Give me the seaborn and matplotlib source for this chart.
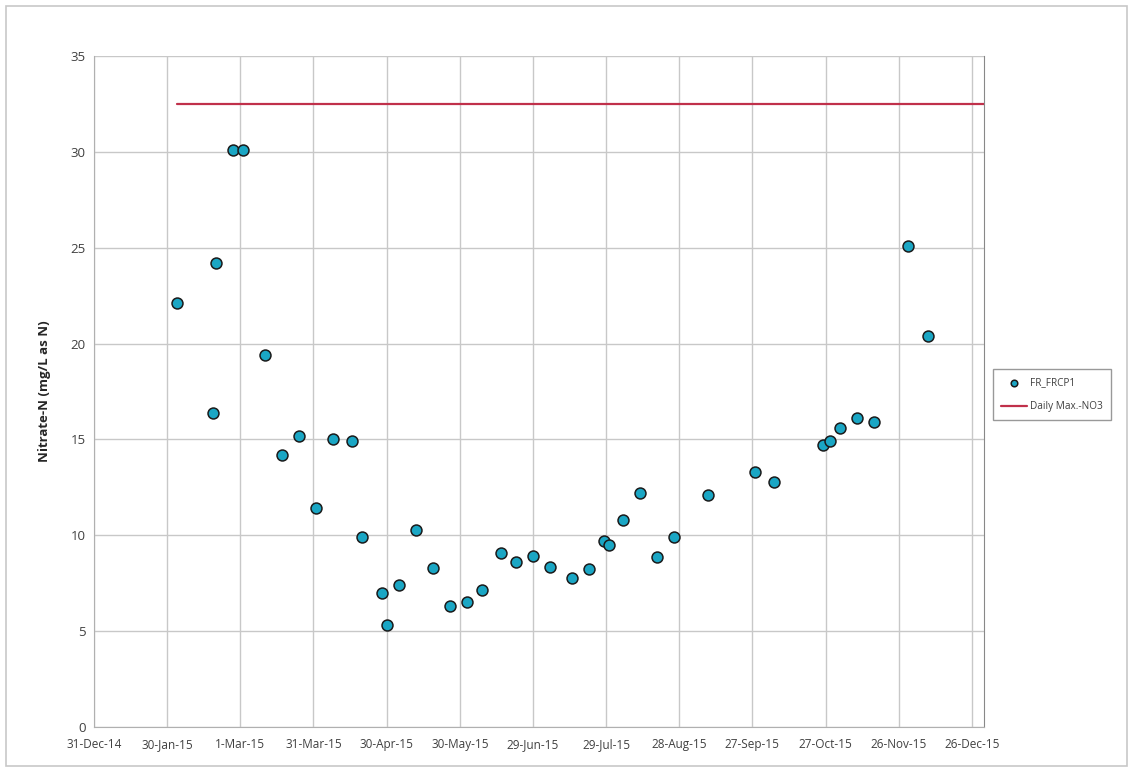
import pandas as pd
import seaborn as sns
import matplotlib.pyplot as plt
import matplotlib.dates as mdates
from matplotlib.patches import Rectangle

# sample dates and nitrate values
dates = ["2015-02-03", "2015-02-18", "2015-02-19", "2015-02-26", "2015-03-02",
         "2015-03-11", "2015-03-18", "2015-03-25", "2015-04-01", "2015-04-08",
         "2015-04-16", "2015-04-20", "2015-04-28", "2015-04-30", "2015-05-05",
         "2015-05-12", "2015-05-19", "2015-05-26", "2015-06-02", "2015-06-08",
         "2015-06-16", "2015-06-22", "2015-06-29", "2015-07-06", "2015-07-15",
         "2015-07-22", "2015-07-28", "2015-07-30", "2015-08-05", "2015-08-12",
         "2015-08-19", "2015-08-26", "2015-09-09", "2015-09-28", "2015-10-06",
         "2015-10-26", "2015-10-29", "2015-11-02", "2015-11-09", "2015-11-16",
         "2015-11-30", "2015-12-08"]
nitrate = [22.1, 16.4, 24.2, 30.1, 30.1,
           19.4, 14.2, 15.2, 11.4, 15.0,
           14.9, 9.9, 7.0, 5.3, 7.4,
           10.3, 8.3, 6.3, 6.5, 7.15,
           9.1, 8.6, 8.9, 8.35, 7.75,
           8.25, 9.7, 9.5, 10.8, 12.2,
           8.85, 9.9, 12.1, 13.3, 12.8,
           14.7, 14.9, 15.6, 16.1, 15.9,
           25.1, 20.4]

limit_dates = ["2015-02-03", "2015-12-31"]
limit_values = [32.5, 32.5]

tick_dates = pd.date_range("2014-12-31", periods=13, freq="30D")

df = pd.DataFrame({"Date": pd.to_datetime(dates), "Nitrate": nitrate})
lim = pd.DataFrame({"Date": pd.to_datetime(limit_dates), "Limit": limit_values})

sns.set_style("white")
plt.rcParams["font.family"] = ["Open Sans", "DejaVu Sans"]

fig = plt.figure(figsize=(11.3, 7.69), dpi=100)
ax = fig.add_axes([0.0832, 0.0546, 0.7876, 0.8726])

sns.lineplot(data=lim, x="Date", y="Limit", color="#c0304a", linewidth=1.6,
             label="Daily Max.-NO3", ax=ax, zorder=2)
sns.scatterplot(data=df, x="Date", y="Nitrate", color="#1aa6c4", edgecolor="#1a1a1a",
                linewidth=1.1, s=62, label="FR_FRCP1", ax=ax, zorder=3)

ax.set_xlim(pd.Timestamp("2014-12-31"), pd.Timestamp("2015-12-31"))
ax.set_ylim(0, 35)
ax.set_yticks(range(0, 36, 5))
ax.set_xticks(tick_dates)
ax.xaxis.set_major_formatter(mdates.DateFormatter("%-d-%b-%y"))
ax.grid(True, color="#c8c8c8", linewidth=1)
ax.tick_params(axis="both", colors="#404040", labelsize=9.5, length=0, pad=6)
ax.tick_params(axis="x", labelsize=8.5, pad=8)
ax.set_xlabel("")
ax.set_ylabel("Nitrate-N (mg/L as N)", fontsize=9.5, fontweight="bold", labelpad=14)
for side in ["left", "bottom"]:
    ax.spines[side].set_color("#b0b0b0")
ax.spines["right"].set_color("#888888")
ax.spines["top"].set_visible(False)

handles, labels = ax.get_legend_handles_labels()
order = [labels.index("FR_FRCP1"), labels.index("Daily Max.-NO3")]
leg = ax.legend([handles[i] for i in order], [labels[i] for i in order],
                loc="center left", bbox_to_anchor=(1.005, 0.495), fontsize=7.2,
                frameon=True, fancybox=False, edgecolor="#808080", borderpad=0.8,
                labelspacing=1.3, handlelength=2.6, handletextpad=0.3,
                markerscale=0.6)
for t in leg.get_texts():
    t.set_color("#404040")

fig.patches.append(Rectangle((6 / 1130, 3 / 769), 1121 / 1130, 760 / 769,
                             transform=fig.transFigure, fill=False,
                             edgecolor="#c8c8c8", linewidth=1.2))

fig.savefig("out.png", dpi=100)
